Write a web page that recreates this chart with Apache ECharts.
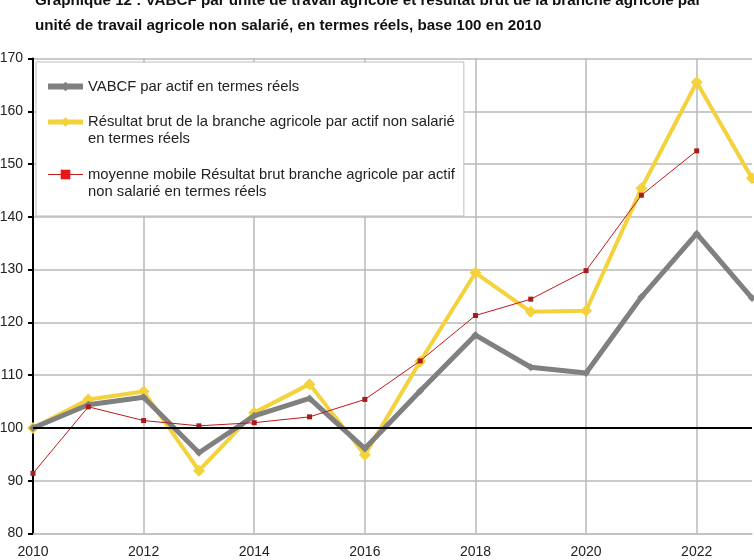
<!DOCTYPE html>
<html>
<head>
<meta charset="utf-8">
<script src="https://cdn.jsdelivr.net/npm/echarts@6/dist/echarts.min.js"></script>
<style>html,body{margin:0;padding:0;background:#fff;}#c{width:754px;height:560px;}</style>
</head>
<body>
<div id="c"></div>
<script>
var years = ['2010','2011','2012','2013','2014','2015','2016','2017','2018','2019','2020','2021','2022','2023'];
var vabcf = [100, 104.4, 105.8, 95.3, 102.3, 105.6, 96.1, 107.0, 117.6, 111.5, 110.4, 124.8, 136.8, 124.6];
var resultatBrut = [100, 105.4, 106.9, 91.9, 102.9, 108.3, 94.9, 112.6, 129.4, 122.0, 122.2, 145.4, 165.5, 147.3];
var moyenneMobile = [91.4, 104.0, 101.4, 100.4, 101.0, 102.1, 105.4, 112.7, 121.3, 124.4, 129.8, 144.1, 152.5, null];
var yTicks = [80, 90, 100, 110, 120, 130, 140, 150, 160, 170];
var seriesNames = [
  'VABCF par actif en termes réels',
  'Résultat brut de la branche agricole par actif non salarié en termes réels',
  'moyenne mobile Résultat brut branche agricole par actif non salarié en termes réels'
];
var legendLabels = {};
legendLabels[seriesNames[0]] = 'VABCF par actif en termes réels';
legendLabels[seriesNames[1]] = ' \nRésultat brut de la branche agricole par actif non salarié\nen termes réels';
legendLabels[seriesNames[2]] = ' \nmoyenne mobile Résultat brut branche agricole par actif\nnon salarié en termes réels';
var titleLines = [
  'Graphique 12 : VABCF par unité de travail agricole et résultat brut de la branche agricole par',
  'unité de travail agricole non salarié, en termes réels, base 100 en 2010'
];

var chart = echarts.init(document.getElementById('c'), null, {renderer: 'canvas'});
chart.setOption({
  animation: false,
  backgroundColor: '#ffffff',
  title: {
    text: titleLines.join('\n'),
    left: 35,
    top: -12,
    padding: 0,
    textStyle: {fontFamily: 'Liberation Sans, Arial', fontSize: 15.2, fontWeight: 'bold', color: '#111', lineHeight: 25}
  },
  grid: {left: 33, right: 2, top: 58.5, bottom: 26.5, containLabel: false, outerBoundsMode: 'none'},
  legend: {
    orient: 'vertical',
    left: 36,
    top: 62,
    padding: [16, 9, 16, 9],
    itemGap: 1.5,
    itemWidth: 35,
    itemHeight: 12,
    backgroundColor: '#ffffff',
    borderColor: '#bdbdbd',
    borderWidth: 1,
    borderRadius: 0,
    z: 10,
    textStyle: {fontFamily: 'Liberation Sans, Arial', fontSize: 14.8, color: '#222', lineHeight: 17},
    formatter: function (n) { return legendLabels[n]; },
    data: [
      {name: seriesNames[0], itemStyle: {color: '#808080'}, lineStyle: {width: 6, color: '#808080'}},
      {name: seriesNames[1], itemStyle: {color: '#f4d23c'}, lineStyle: {width: 5, color: '#f4d23c'}},
      {name: seriesNames[2], itemStyle: {color: '#e8161a'}, lineStyle: {width: 1, color: '#c01818'}}
    ]
  },
  xAxis: {
    type: 'category',
    data: years,
    boundaryGap: false,
    axisLine: {show: true, lineStyle: {color: '#c0c0c0', width: 1.5}},
    axisTick: {show: false},
    axisLabel: {interval: 1, margin: 12, fontFamily: 'Liberation Sans, Arial', fontSize: 14, color: '#222'},
    splitLine: {show: true, interval: 1, lineStyle: {color: '#b8b8b8', width: 1.5}}
  },
  yAxis: {
    type: 'value',
    min: yTicks[0],
    max: yTicks[yTicks.length - 1],
    interval: 10,
    axisLine: {show: true, lineStyle: {color: '#000', width: 2}},
    axisTick: {show: true, inside: false, length: 5, lineStyle: {color: '#000', width: 2}},
    axisLabel: {margin: 10, fontFamily: 'Liberation Sans, Arial', fontSize: 14, color: '#222'},
    splitLine: {show: true, lineStyle: {color: '#b8b8b8', width: 1.5}}
  },
  series: [
    {
      name: seriesNames[0],
      type: 'line',
      data: vabcf,
      z: 3,
      symbol: 'diamond',
      symbolSize: 8,
      color: '#808080',
      lineStyle: {color: '#808080', width: 5},
      itemStyle: {color: '#808080'}
    },
    {
      name: seriesNames[1],
      type: 'line',
      data: resultatBrut,
      z: 2,
      symbol: 'diamond',
      symbolSize: 12,
      color: '#f4d23c',
      lineStyle: {color: '#f4d23c', width: 4},
      itemStyle: {color: '#f4d23c'},
      markLine: {
        silent: true,
        symbol: ['none', 'none'],
        label: {show: false},
        lineStyle: {color: '#000', width: 2, type: 'solid'},
        data: [{yAxis: 100}]
      }
    },
    {
      name: seriesNames[2],
      type: 'line',
      data: moyenneMobile,
      z: 4,
      symbol: 'rect',
      symbolSize: 5,
      color: '#a81c1c',
      lineStyle: {color: '#c01818', width: 1},
      itemStyle: {color: '#a81c1c'}
    }
  ]
});
</script>
</body>
</html>
